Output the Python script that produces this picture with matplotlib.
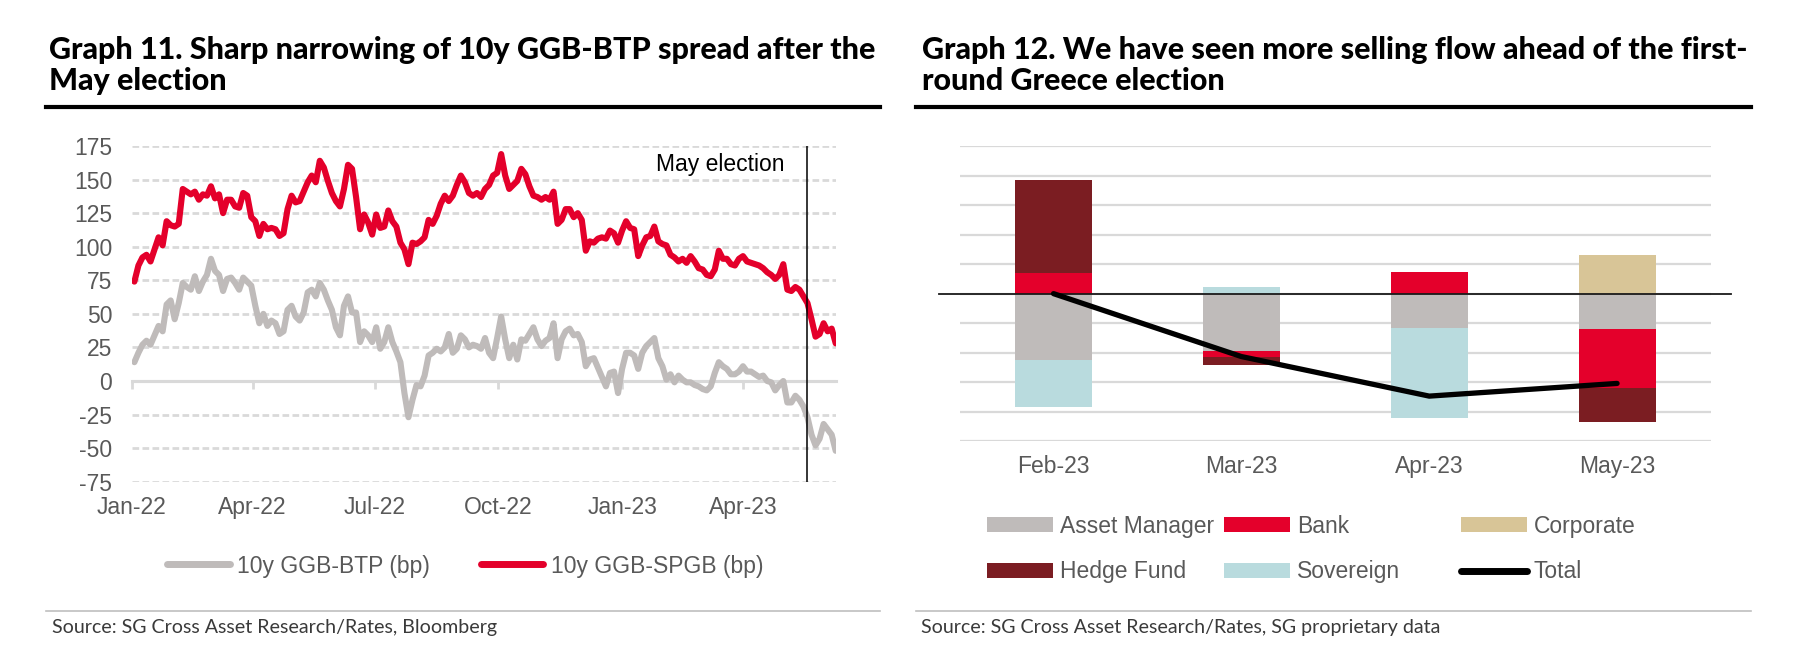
import numpy as np
import pandas as pd
import matplotlib
matplotlib.use("Agg")
import matplotlib.pyplot as plt
import matplotlib.dates as mdates
from matplotlib.patches import Patch
from matplotlib.lines import Line2D

plt.rcParams['axes.unicode_minus'] = False

# ---------------- data: Graph 11 ----------------
start_date = '2022-01-03'
ggb_spgb = [
    74, 86, 92, 94, 89, 98, 107, 101, 119, 116, 115, 117, 143, 141, 139, 141, 135, 139, 138, 145, 136, 139,
    125, 135, 135, 130, 129, 140, 138, 122, 119, 108, 117, 113, 114, 113, 108, 110, 128, 138, 133, 134, 141, 148,
    153, 148, 164, 159, 149, 140, 134, 130, 143, 161, 158, 137, 113, 124, 118, 109, 124, 114, 115, 127, 119, 115,
    103, 98, 87, 103, 102, 104, 107, 120, 117, 123, 132, 138, 134, 138, 146, 153, 148, 140, 138, 140, 137, 143, 146,
    153, 155, 169, 153, 143, 146, 149, 158, 154, 145, 138, 137, 135, 137, 135, 141, 117, 120, 128, 128, 122, 125,
    120, 97, 104, 103, 106, 107, 106, 112, 110, 103, 112, 119, 114, 113, 93, 101, 107, 108, 115, 104, 102, 101,
    94, 92, 89, 91, 88, 93, 89, 84, 83, 79, 78, 83, 97, 91, 91, 87, 86, 91, 93, 89, 88, 87, 86, 84, 81, 79, 76,
    79, 87, 68, 67, 70, 68, 63, 58, 46, 33, 35, 43, 37, 39, 28]
ggb_btp = [
    14, 21, 27, 30, 27, 34, 41, 37, 57, 60, 46, 58, 73, 70, 68, 78, 67, 74, 79, 91, 82, 79,
    67, 76, 77, 73, 68, 77, 74, 71, 56, 43, 50, 41, 45, 43, 35, 37, 53, 56, 48, 45, 51, 66,
    68, 63, 73, 68, 60, 53, 40, 34, 56, 63, 51, 51, 29, 37, 34, 29, 40, 24, 29, 40, 29, 22,
    14, -9, -27, -14, -3, -4, 4, 19, 21, 24, 22, 25, 35, 21, 24, 34, 31, 25, 27, 26, 24, 32, 21,
    17, 32, 48, 31, 17, 27, 16, 31, 30, 35, 40, 31, 26, 30, 32, 43, 17, 31, 37, 39, 34, 35,
    29, 11, 16, 17, 10, 3, -4, 6, 7, -9, 9, 21, 21, 19, 9, 21, 26, 29, 32, 17, 11, 1,
    5, -1, 4, 1, -1, -1, -3, -4, -6, -7, -4, 6, 14, 11, 9, 5, 5, 7, 11, 7, 7, 5, 3, 4, 0, -1, -7,
    -3, 0, -16, -16, -11, -14, -19, -27, -40, -48, -43, -32, -36, -40, -52]
quarter_ticks = ['2022-01-01', '2022-04-01', '2022-07-01', '2022-10-01', '2023-01-01', '2023-04-01']
quarter_labels = ['Jan-22', 'Apr-22', 'Jul-22', 'Oct-22', 'Jan-23', 'Apr-23']
y_ticks_left = [-75, -50, -25, 0, 25, 50, 75, 100, 125, 150, 175]
election_date = '2023-05-19'

# ---------------- data: Graph 12 ----------------
months = ['Feb-23', 'Mar-23', 'Apr-23', 'May-23']
asset_manager = [-2.25, -1.94, -1.15, -1.21]
bank = [0.70, -0.19, 0.73, -1.98]
corporate = [0.0, 0.0, 0.0, 1.30]
hedge_fund = [3.14, -0.28, 0.0, -1.17]
sovereign = [-1.58, 0.24, -3.07, 0.0]
total = [0.0, -2.13, -3.47, -3.04]

# ---------------- style ----------------
W, H = 1805, 663
C_GREY = '#BFBBBA'
C_RED = '#E4002B'
C_TAN = '#D8C597'
C_DARK = '#7B1D22'
C_BLUE = '#B9DBDE'
C_GRID = '#D9D9D9'
C_TXT = '#595959'
TICK_FS = 16.5
TXT_FONT = ['Liberation Sans', 'DejaVu Sans']

fig = plt.figure(figsize=(W / 100, H / 100), dpi=100)
fig.patch.set_facecolor('white')


def fx(px):
    return px / W


def fy(py):
    return 1 - py / H


# ---------------- left chart ----------------
dates = pd.date_range(start_date, periods=len(ggb_spgb), freq='3D')
xd = mdates.date2num(dates)
tick_x = mdates.date2num(pd.to_datetime(quarter_ticks))

axL = fig.add_axes([fx(131.7), fy(481.7), fx(835.7 - 131.7), (481.7 - 146) / H])
axL.set_xlim(tick_x[0], xd[-1])
axL.set_ylim(-75, 175)
for s in axL.spines.values():
    s.set_visible(False)
axL.set_yticks(y_ticks_left, labels=[str(v) for v in y_ticks_left])
axL.set_xticks(tick_x, labels=quarter_labels)
axL.tick_params(axis='y', length=0, pad=14, labelsize=TICK_FS, labelcolor=C_TXT)
axL.tick_params(axis='x', length=0, pad=10, labelsize=TICK_FS, labelcolor=C_TXT)
for lab in axL.get_xticklabels() + axL.get_yticklabels():
    lab.set_family(TXT_FONT)
axL.yaxis.grid(True, color=C_GRID, lw=2.0, ls=(0, (2.4, 1.2)), zorder=0)
axL.set_axisbelow(True)
axL.axhline(0, color=C_GRID, lw=2.2, zorder=1)

sec = axL.secondary_xaxis((0 - (-75)) / 250.0)
sec.set_xticks(tick_x, labels=[''] * len(tick_x))
sec.tick_params(axis='x', direction='out', length=6, width=2, color=C_GRID)
sec.spines['bottom'].set_color(C_GRID)
sec.spines['bottom'].set_linewidth(2.2)

lb, = axL.plot(xd, ggb_btp, color=C_GREY, lw=4.4, solid_joinstyle='round', solid_capstyle='round', zorder=3)
lr, = axL.plot(xd, ggb_spgb, color=C_RED, lw=4.4, solid_joinstyle='round', solid_capstyle='round', zorder=4)

el_x = mdates.date2num(pd.Timestamp(election_date))
axL.axvline(el_x, color='black', lw=1.1, zorder=5)
axL.annotate('May election', xy=(el_x, 175), xycoords='data', xytext=(-23, -19), textcoords='offset pixels',
             ha='right', va='center', fontsize=TICK_FS, color='black', family=TXT_FONT)

legL = fig.legend([Line2D([], [], color=C_GREY, lw=5, solid_capstyle='round'),
                   Line2D([], [], color=C_RED, lw=5, solid_capstyle='round')],
                  ['10y GGB-BTP (bp)', '10y GGB-SPGB (bp)'], ncol=2, loc='center left',
                  bbox_to_anchor=(fx(167), fy(566)), frameon=False, borderpad=0, borderaxespad=0,
                  handlelength=2.74, handletextpad=0.33, columnspacing=2.2,
                  prop={'family': TXT_FONT, 'size': TICK_FS})
for t in legL.get_texts():
    t.set_color(C_TXT)

# ---------------- right chart ----------------
axR = fig.add_axes([fx(959.6), fy(441.3), fx(751.4), (441.3 - 146) / H])
axR.set_xlim(-0.5, 3.5)
axR.set_ylim(-5, 5)
for s in axR.spines.values():
    s.set_visible(False)
axR.set_yticks(np.arange(-5, 6, 1))
axR.set_yticklabels([])
axR.yaxis.grid(True, color=C_GRID, lw=1.6, zorder=0)
axR.set_axisbelow(True)
xpos = np.arange(len(months))
axR.set_xticks(xpos, labels=months)
axR.tick_params(axis='x', length=0, pad=10, labelsize=TICK_FS, labelcolor=C_TXT)
axR.tick_params(axis='y', length=0)
for lab in axR.get_xticklabels():
    lab.set_family(TXT_FONT)

series = [('Asset Manager', asset_manager, C_GREY), ('Bank', bank, C_RED), ('Corporate', corporate, C_TAN),
          ('Hedge Fund', hedge_fund, C_DARK), ('Sovereign', sovereign, C_BLUE)]
pos_b = np.zeros(len(months))
neg_b = np.zeros(len(months))
for name, vals, col in series:
    v = np.array(vals, dtype=float)
    bottom = np.where(v >= 0, pos_b, neg_b)
    axR.bar(xpos, v, width=0.41, bottom=bottom, color=col, edgecolor='none', zorder=2)
    pos_b = pos_b + np.where(v > 0, v, 0)
    neg_b = neg_b + np.where(v < 0, v, 0)

axR.axhline(0, xmin=(939 - 959.6) / 751.4, xmax=(1731 - 959.6) / 751.4, color='#1a1a1a', lw=1.3,
            clip_on=False, zorder=3)
axR.plot(xpos, total, color='black', lw=3.8, solid_capstyle='round', solid_joinstyle='round', zorder=4)

handles = {name: Patch(facecolor=col, edgecolor='none') for name, _, col in series}
handles['Total'] = Line2D([], [], color='black', lw=5, solid_capstyle='round')
cols = [['Asset Manager', 'Hedge Fund'], ['Bank', 'Sovereign'], ['Corporate', 'Total']]
col_x = [987, 1224, 1461]
for names, x0 in zip(cols, col_x):
    lg = fig.legend([handles[n] for n in names], names, loc='center left',
                    bbox_to_anchor=(fx(x0), fy(549)), frameon=False, borderpad=0, borderaxespad=0,
                    handlelength=2.87, handleheight=0.65, handletextpad=0.3, labelspacing=1.0,
                    prop={'family': TXT_FONT, 'size': TICK_FS})
    for t in lg.get_texts():
        t.set_color(C_TXT)

# ---------------- titles, rules, sources ----------------
TITLE_FONT = ['Lato', 'DejaVu Sans']
t1a = fig.text(fx(49), fy(59), 'Graph 11. Sharp narrowing of 10y GGB-BTP spread after the', family=TITLE_FONT,
               weight='black', fontsize=19, va='baseline', ha='left', color='black')
t1b = fig.text(fx(49), fy(90), 'May election', family=TITLE_FONT, weight='black', fontsize=19,
               va='baseline', ha='left', color='black')
t2a = fig.text(fx(922), fy(59), 'Graph 12. We have seen more selling flow ahead of the first-', family=TITLE_FONT,
               weight='black', fontsize=19, va='baseline', ha='left', color='black')
t2b = fig.text(fx(922), fy(90), 'round Greece election', family=TITLE_FONT, weight='black', fontsize=19,
               va='baseline', ha='left', color='black')
SRC_FONT = ['Lato', 'DejaVu Sans']
s1 = fig.text(fx(52), fy(628), 'Source: SG Cross Asset Research/Rates, Bloomberg', family=SRC_FONT,
              fontsize=13, va='center', ha='left', color='#3a3a3a')
s2 = fig.text(fx(921), fy(628), 'Source: SG Cross Asset Research/Rates, SG proprietary data', family=SRC_FONT,
              fontsize=13, va='center', ha='left', color='#3a3a3a')

# fit text widths to the reference layout
fig.canvas.draw()
r = fig.canvas.get_renderer()
ratio_title = np.mean([825 / t1a.get_window_extent(r).width, 822 / t2a.get_window_extent(r).width])
for t in (t1a, t1b, t2a, t2b):
    t.set_fontsize(19 * ratio_title)
ratio_src = np.mean([445 / s1.get_window_extent(r).width, 518 / s2.get_window_extent(r).width])
for t in (s1, s2):
    t.set_fontsize(13 * ratio_src)

for x0, x1 in ((46, 880), (916, 1751)):
    fig.add_artist(Line2D([fx(x0), fx(x1)], [fy(107), fy(107)], color='black', lw=3.0))
    fig.add_artist(Line2D([fx(x0), fx(x1)], [fy(611), fy(611)], color='#BFBFBF', lw=1.2))

fig.savefig('out.png', dpi=100, facecolor='white')
